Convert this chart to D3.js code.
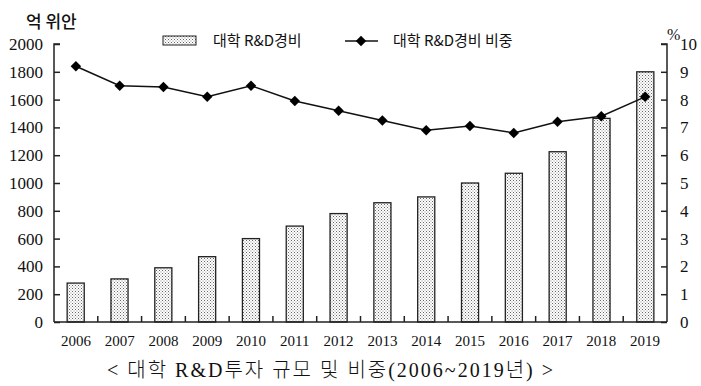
<!DOCTYPE html>
<html>
<head>
<meta charset="utf-8">
<script src="https://cdn.jsdelivr.net/npm/d3@7"></script>
<style>
  body { margin: 0; background: #fff; }
  svg { display: block; }
</style>
</head>
<body>
<svg id="chart" width="701" height="386"></svg>
<script>
// data
const years = ['2006', '2007', '2008', '2009', '2010', '2011', '2012', '2013', '2014', '2015', '2016', '2017', '2018', '2019'];
const spending = [280, 310, 390, 470, 600, 690, 780, 858, 900, 1000, 1070, 1225, 1465, 1800];
const share = [9.2, 8.5, 8.45, 8.1, 8.5, 7.95, 7.6, 7.25, 6.9, 7.05, 6.8, 7.2, 7.4, 8.1];
const leftTicks = [0, 200, 400, 600, 800, 1000, 1200, 1400, 1600, 1800, 2000];
const rightTicks = [0, 1, 2, 3, 4, 5, 6, 7, 8, 9, 10];

const svg = d3.select('#chart');
const serif = '"Liberation Serif", "Times New Roman", serif';
const kr = '"Noto Sans CJK KR", "Noto Sans", sans-serif';

const plotL = 54, plotR = 667, plotT = 44, plotB = 322;

const x = d3.scaleBand().domain(years).range([plotL, plotR]).paddingInner(0.61).paddingOuter(0.3);
const xStep = d3.scaleBand().domain(years).range([plotL, plotR]);
const yL = d3.scaleLinear().domain([0, 2000]).range([plotB, plotT]);
const yR = d3.scaleLinear().domain([0, 10]).range([plotB, plotT]);

// dot pattern for bars
const defs = svg.append('defs');
const pat = defs.append('pattern')
    .attr('id', 'dots')
    .attr('width', 3).attr('height', 3)
    .attr('patternUnits', 'userSpaceOnUse');
pat.append('rect').attr('width', 3).attr('height', 3).attr('fill', '#fff');
pat.append('rect').attr('x', 0).attr('y', 0).attr('width', 1).attr('height', 1).attr('fill', '#666');
pat.append('rect').attr('x', 1.5).attr('y', 1.5).attr('width', 1).attr('height', 1).attr('fill', '#888');

// bars
svg.append('g').selectAll('rect')
    .data(spending)
    .enter().append('rect')
    .attr('x', (d, i) => x(years[i]))
    .attr('y', d => yL(d))
    .attr('width', x.bandwidth())
    .attr('height', d => plotB - yL(d))
    .attr('fill', 'url(#dots)')
    .attr('stroke', '#222')
    .attr('stroke-width', 1.3);

// axes
const axisL = svg.append('g')
    .attr('transform', `translate(${plotL},0)`)
    .call(d3.axisLeft(yL).tickValues(leftTicks).tickFormat(d3.format('d')).tickSize(-6).tickPadding(11));
const axisR = svg.append('g')
    .attr('transform', `translate(${plotR},0)`)
    .call(d3.axisRight(yR).tickValues(rightTicks).tickFormat(d3.format('d')).tickSize(-6).tickPadding(13));
[axisL, axisR].forEach(a => {
    a.attr('font-family', null).attr('font-size', null);
    a.select('.domain').attr('stroke', '#222').attr('stroke-width', 1.5);
    a.selectAll('.tick line').attr('stroke', '#222').attr('stroke-width', 1.5);
    a.selectAll('.tick text')
        .style('font-family', serif).style('font-size', '17px').attr('fill', '#111');
});
axisL.select('.domain').attr('d', `M6,${plotT}H0V${plotB}`);
axisR.select('.domain').attr('d', `M-6,${plotT}H0V${plotB}`);

// x axis baseline and small separators
svg.append('line')
    .attr('x1', plotL).attr('x2', plotR)
    .attr('y1', plotB).attr('y2', plotB)
    .attr('stroke', '#222').attr('stroke-width', 1.5);
svg.append('g').selectAll('line')
    .data(years.slice(1))
    .enter().append('line')
    .attr('x1', d => xStep(d)).attr('x2', d => xStep(d))
    .attr('y1', plotB).attr('y2', plotB - 6)
    .attr('stroke', '#222').attr('stroke-width', 1.5);

svg.append('g').selectAll('text')
    .data(years)
    .enter().append('text')
    .attr('x', d => xStep(d) + xStep.bandwidth() / 2)
    .attr('y', 346)
    .attr('text-anchor', 'middle')
    .style('font-family', serif)
    .style('font-size', '15px')
    .attr('fill', '#111')
    .text(d => d);

// share line
const line = d3.line()
    .x((d, i) => xStep(years[i]) + xStep.bandwidth() / 2)
    .y(d => yR(d));
svg.append('path')
    .attr('d', line(share))
    .attr('fill', 'none')
    .attr('stroke', '#111')
    .attr('stroke-width', 1.5);

const diamond = d3.symbol().type(d3.symbolDiamond2).size(70);
svg.append('g').selectAll('path')
    .data(share)
    .enter().append('path')
    .attr('d', diamond)
    .attr('transform', (d, i) => `translate(${xStep(years[i]) + xStep.bandwidth() / 2},${yR(d)})`)
    .attr('fill', '#000');

// unit labels
svg.append('text')
    .attr('x', 26).attr('y', 28)
    .style('font-family', kr).style('font-size', '17px').style('font-weight', 500)
    .attr('fill', '#111')
    .text('억 위안');
svg.append('text')
    .attr('x', 667).attr('y', 40)
    .style('font-family', serif).style('font-size', '16px')
    .attr('fill', '#111')
    .text('%');

// legend
const legend = svg.append('g');
legend.append('rect')
    .attr('x', 163).attr('y', 36).attr('width', 33).attr('height', 9)
    .attr('fill', 'url(#dots)').attr('stroke', '#222').attr('stroke-width', 1);
legend.append('text')
    .attr('x', 213).attr('y', 46)
    .style('font-family', kr).style('font-size', '15px').attr('fill', '#111')
    .text('대학 R&D경비');
legend.append('line')
    .attr('x1', 345).attr('x2', 378).attr('y1', 41).attr('y2', 41)
    .attr('stroke', '#111').attr('stroke-width', 1.5);
legend.append('path')
    .attr('d', diamond)
    .attr('transform', 'translate(361,41)')
    .attr('fill', '#000');
legend.append('text')
    .attr('x', 393).attr('y', 46)
    .style('font-family', kr).style('font-size', '15px').attr('fill', '#111')
    .text('대학 R&D경비 비중');

// caption
svg.append('text')
    .attr('x', 331).attr('y', 377)
    .attr('text-anchor', 'middle')
    .style('font-family', serif + ', ' + kr)
    .style('font-size', '20px')
    .style('font-weight', 300)
    .style('letter-spacing', '2px')
    .attr('fill', '#111')
    .text('<  대학 R&D투자 규모 및 비중(2006~2019년)  >');
</script>
</body>
</html>
